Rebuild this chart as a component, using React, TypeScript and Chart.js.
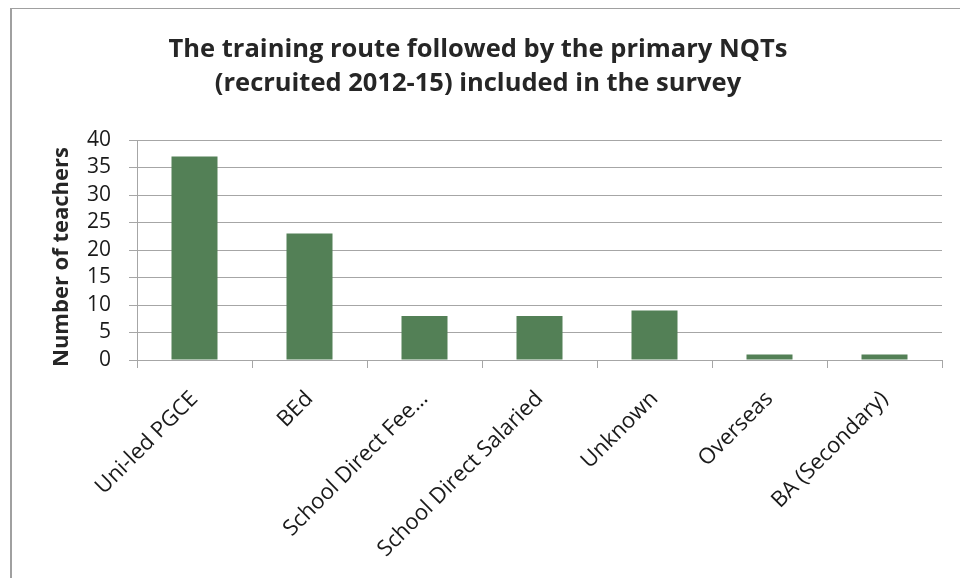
import React, { useEffect, useRef } from "react";
import { Chart, registerables } from "chart.js";

Chart.register(...registerables);

const categories = [
  "Uni-led PGCE",
  "BEd",
  "School Direct Fee…",
  "School Direct Salaried",
  "Unknown",
  "Overseas",
  "BA (Secondary)",
];
const teachers = [37, 23, 8, 8, 9, 1, 1];
const titleLines = [
  "The training route followed by the primary NQTs",
  "(recruited 2012-15) included in the survey",
];
const yAxisTitle = "Number of teachers";

const GRID = "#A6A6A6";
const BAR = "#538056";
const FONT = "'Open Sans', sans-serif";

const framePlugin = {
  id: "frameAndTitles",
  beforeDraw(chart: any) {
    const ctx = chart.ctx;
    ctx.save();
    ctx.fillStyle = "#ffffff";
    ctx.fillRect(0, 0, chart.width, chart.height);
    ctx.fillStyle = "#A0A0A0";
    ctx.fillRect(10, 8, 2, chart.height - 8);
    ctx.fillRect(10, 8, chart.width - 10, 1);
    ctx.restore();
  },
  afterDraw(chart: any) {
    const ctx = chart.ctx;
    const area = chart.chartArea;
    ctx.save();
    ctx.fillStyle = "#262626";
    ctx.textAlign = "center";
    ctx.textBaseline = "alphabetic";
    ctx.font = `bold 25.5px ${FONT}`;
    ctx.fillText(titleLines[0], 478, 57);
    ctx.fillText(titleLines[1], 478, 91);
    ctx.translate(62, (area.top + area.bottom) / 2 + 7);
    ctx.rotate(-Math.PI / 2);
    ctx.textBaseline = "middle";
    ctx.font = `bold 22px ${FONT}`;
    ctx.fillText(yAxisTitle, 0, 0);
    ctx.restore();
  },
};

export default function App() {
  const ref = useRef<HTMLCanvasElement | null>(null);
  useEffect(() => {
    if (!ref.current) return;
    const chart = new Chart(ref.current, {
      type: "bar",
      data: {
        labels: categories,
        datasets: [
          {
            data: teachers,
            backgroundColor: BAR,
            borderWidth: 0,
            barPercentage: 0.4,
            categoryPercentage: 1,
          },
        ],
      },
      options: {
        animation: false,
        responsive: false,
        devicePixelRatio: 1,
        layout: { padding: { top: 140, right: 18, left: 0, bottom: 0 } },
        plugins: {
          legend: { display: false },
          title: { display: false },
          tooltip: { enabled: false },
        },
        scales: {
          x: {
            grid: {
              display: true,
              drawOnChartArea: false,
              drawTicks: true,
              tickLength: 8,
              color: GRID,
              offset: true,
            },
            border: { display: true, color: GRID, width: 1 },
            ticks: {
              color: "#1a1a1a",
              font: { family: FONT, size: 22 },
              minRotation: 45,
              maxRotation: 45,
              autoSkip: false,
              padding: 18,
            },
            afterFit(scale: any) {
              scale.height = 578 - 360;
            },
          },
          y: {
            min: 0,
            max: 40,
            ticks: {
              stepSize: 5,
              autoSkip: false,
              color: "#1a1a1a",
              font: { family: FONT, size: 21 },
              padding: 18,
            },
            grid: {
              color: GRID,
              drawTicks: true,
              tickLength: 8,
            },
            border: { display: true, color: GRID, width: 1 },
            afterFit(scale: any) {
              scale.width = 137;
            },
          },
        },
      },
      plugins: [framePlugin],
    });
    return () => chart.destroy();
  }, []);
  return (
    <div style={{ position: "absolute", left: 0, top: 0, width: 960, height: 578 }}>
      <canvas ref={ref} width={960} height={578} />
    </div>
  );
}
